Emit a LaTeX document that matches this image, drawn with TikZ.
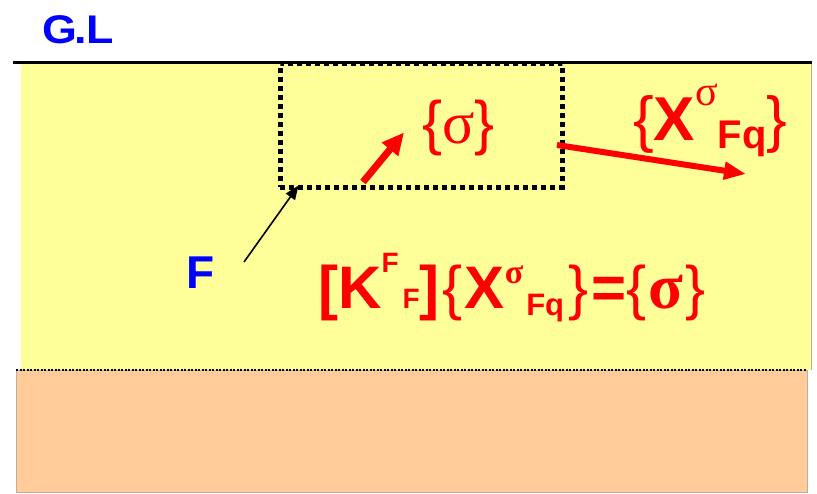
\documentclass[tikz,border=0pt]{standalone}
\usepackage{fontspec}
\setmainfont{Liberation Sans}
\newfontfamily\sigfont{Liberation Serif}
\usetikzlibrary{arrows.meta,positioning,calc}
\definecolor{glYellow}{HTML}{FFFF99}
\definecolor{glOrange}{HTML}{FFCC99}
\definecolor{glRed}{HTML}{FF0000}
\definecolor{glBlue}{HTML}{0000FF}
\definecolor{glEdge}{HTML}{B8B0A0}
\newcommand{\sgm}{{\sigfont\mdseries σ}}
\newcommand{\sgmb}{{\sigfont\bfseries σ}}
\newcommand{\hiscr}[3]{\raisebox{#1}{\fontsize{#2}{#2}\selectfont #3}}
\newcommand{\loscr}[3]{\raisebox{-#1}{\fontsize{#2}{#2}\selectfont #3}}
\newcommand{\brl}{{\mdseries\{}}
\newcommand{\brr}{{\mdseries\}}}

\begin{document}
\begin{tikzpicture}[x=1pt, y=-1pt,
  lbl/.style={inner sep=0pt, anchor=base west, text=glRed},
  glb/.style={inner sep=0pt, anchor=base west, text=glBlue, font=\bfseries},
  zonebox/.style={draw, line width=5pt, dash pattern=on 5pt off 4pt, inner sep=0pt, minimum width=282pt, minimum height=124pt},
  redarr/.style={-{Triangle[length=22pt, width=20pt]}, line width=7pt, glRed},
  redarrb/.style={-{Triangle[length=22pt, width=17pt]}, line width=6pt, glRed},
  blkarr/.style={-{Triangle[length=14pt, width=11pt]}, line width=1.6pt}]
\useasboundingbox (0,0) rectangle (817,493);

% ground layers
\fill[glYellow] (21,63) rectangle (811,370);
\draw[glEdge] (811,63) -- (811,370);
\filldraw[fill=glOrange, draw=glEdge] (16,370) rectangle (807,492);
\draw[line width=2.5pt, dash pattern=on 2pt off 1.5pt] (16,370) -- (807,370);

% element zone below the ground line
\node[zonebox] (zone) at (421,125) {};
\draw[line width=3pt] (13,62) -- (812,62);
\node[glb, font=\fontsize{40}{40}\selectfont\bfseries] (gl) at (42,43)
  {\scalebox{1.12}[1]{G\kern-2pt.\kern-1pt L}};

% labels
\node[lbl, font=\fontsize{60}{60}\selectfont] (sig) at (422,143) {\brl\sgm\brr};
\node[lbl, font=\fontsize{62}{62}\selectfont\bfseries] (disp) at (633,140)
  {\brl X\hiscr{35pt}{42}{\sgm}\loscr{8pt}{40}{Fq}\brr};
\node[glb, font=\fontsize{46}{46}\selectfont\bfseries] (force) at (186,288) {F};
\node[lbl, font=\fontsize{60}{60}\selectfont\bfseries] (eqn) at (318,308)
  {[K\hiscr{36pt}{28}{F}\hspace{4pt}\loscr{0pt}{28}{F}]\hspace{3pt}\brl\hspace{2pt}X\hiscr{25pt}{34}{\sgmb}\hspace{3pt}\loscr{7pt}{31}{Fq}\hspace{4pt}\brr\hspace{3pt}=\brl\hspace{2pt}{\fontsize{64}{64}\selectfont\sgmb}\hspace{2pt}\brr};

% connectors
\coordinate (ftail) at (244,262);
\coordinate (ftip) at ($(zone.south west)+(21,-4)$);
\coordinate (stail) at (363,182);
\coordinate (stip) at ($(sig.west)+(-18,5)$);
\coordinate (xtail) at (557,145);
\coordinate (xtip) at (746,174);
\draw[blkarr] (ftail) -- (ftip);
\draw[redarr] (stail) -- (stip);
\draw[redarrb] (xtail) -- (xtip);
\end{tikzpicture}
\end{document}
